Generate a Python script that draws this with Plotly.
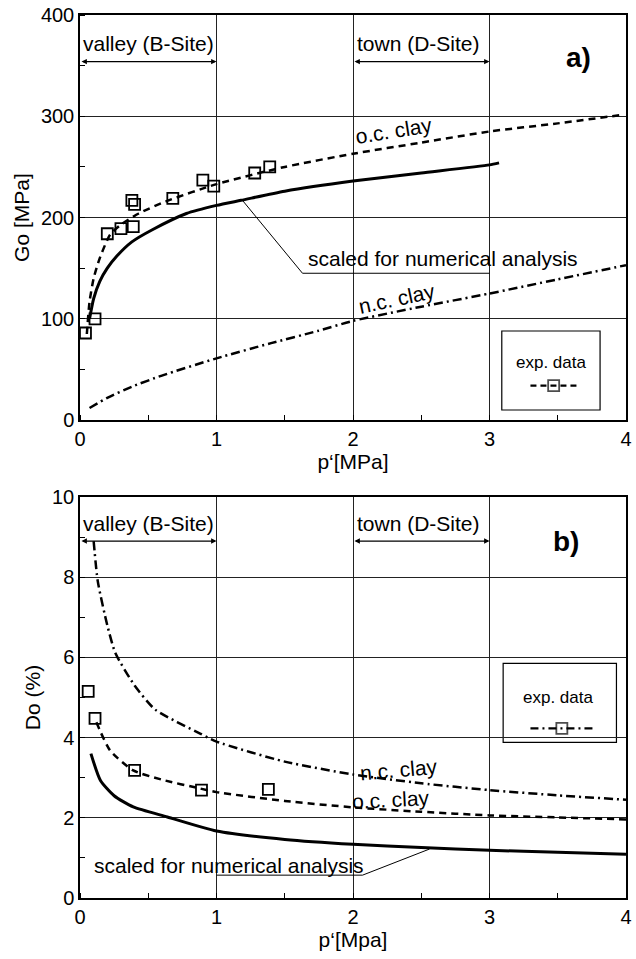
import plotly.graph_objects as go

# ---------------- data: panel a) ----------------
p_oc_a = [0.05, 0.07, 0.10, 0.145, 0.22, 0.30, 0.43, 0.63, 1.0, 1.5, 2.0, 2.5, 3.0, 3.5, 3.95]
G_oc_a = [85, 117, 140, 160, 183, 193, 204, 216, 233, 250, 263, 274, 285, 293, 301]

p_sc_a = [0.07, 0.10, 0.145, 0.20, 0.27, 0.38, 0.53, 0.78, 1.0, 1.18, 1.5, 2.0, 2.5, 3.0, 3.07]
G_sc_a = [100, 120, 137, 150, 162, 176, 188, 204, 212, 217, 226, 236, 244, 252, 254]

p_nc_a = [0.07, 0.20, 0.38, 0.60, 1.0, 1.4, 1.74, 2.0, 2.5, 3.0, 3.5, 4.0]
G_nc_a = [12, 22, 33, 44, 61, 76, 88, 98, 112, 125, 139, 153]

p_exp_a = [0.04, 0.11, 0.20, 0.30, 0.39, 0.38, 0.40, 0.68, 0.90, 0.98, 1.28, 1.39]
G_exp_a = [86, 100, 184, 189, 191, 217, 213, 219, 237, 231, 244, 250]

# ---------------- data: panel b) ----------------
p_nc_b = [0.10, 0.13, 0.20, 0.26, 0.40, 0.55, 0.88, 1.0, 1.5, 2.0, 2.5, 3.0, 3.5, 4.0]
D_nc_b = [8.9, 7.9, 6.8, 6.1, 5.3, 4.7, 4.1, 3.9, 3.4, 3.08, 2.86, 2.69, 2.56, 2.45]

p_oc_b = [0.12, 0.22, 0.39, 0.60, 0.88, 1.0, 1.5, 2.0, 2.5, 3.0, 3.5, 4.0]
D_oc_b = [4.38, 3.68, 3.18, 2.95, 2.73, 2.64, 2.42, 2.26, 2.15, 2.06, 2.01, 1.96]

p_sc_b = [0.08, 0.15, 0.25, 0.39, 0.64, 1.0, 1.5, 2.0, 2.5, 3.0, 3.5, 4.0]
D_sc_b = [3.6, 2.93, 2.55, 2.27, 2.02, 1.67, 1.46, 1.34, 1.26, 1.19, 1.14, 1.09]

p_exp_b = [0.06, 0.11, 0.40, 0.89, 1.38]
D_exp_b = [5.15, 4.48, 3.18, 2.69, 2.71]

x_ticks = [0, 1, 2, 3, 4]
G_ticks = [0, 100, 200, 300, 400]
D_ticks = [0, 2, 4, 6, 8, 10]

FONT = "Liberation Sans, Arial, sans-serif"
DASH = "7px,5px"
DASHDOT = "9px,4px,2px,4px"
TXT = 21

fig = go.Figure()

def line(x, y, dash, xa, ya, width=2.5):
    fig.add_trace(go.Scatter(x=x, y=y, mode="lines", line=dict(color="black", width=width, dash=dash, shape="spline", smoothing=0.6),
                             xaxis=xa, yaxis=ya, showlegend=False, hoverinfo="skip"))

def pts(x, y, xa, ya):
    fig.add_trace(go.Scatter(x=x, y=y, mode="markers",
                             marker=dict(symbol="square-open", size=11, color="black", line=dict(width=1.8, color="black")),
                             xaxis=xa, yaxis=ya, showlegend=False, hoverinfo="skip"))

# panel a
line(p_oc_a, G_oc_a, DASH, "x", "y")
line(p_sc_a, G_sc_a, "solid", "x", "y", 3)
line(p_nc_a, G_nc_a, DASHDOT, "x", "y")
pts(p_exp_a, G_exp_a, "x", "y")
# panel b
line(p_nc_b, D_nc_b, DASHDOT, "x2", "y2")
line(p_oc_b, D_oc_b, DASH, "x2", "y2")
line(p_sc_b, D_sc_b, "solid", "x2", "y2", 3)
pts(p_exp_b, D_exp_b, "x2", "y2")

# legend symbols (drawn inside the legend boxes)
fig.add_trace(go.Scatter(x=[3.30, 3.47, 3.64], y=[34, 34, 34], mode="lines+markers",
                         line=dict(color="black", width=2.2, dash="6px,4px"),
                         marker=dict(symbol="square-open", size=[0, 11, 0], color="black", line=dict(width=1.8)),
                         xaxis="x", yaxis="y", showlegend=False, hoverinfo="skip"))
fig.add_trace(go.Scatter(x=[3.30, 3.53, 3.76], y=[4.23, 4.23, 4.23], mode="lines+markers",
                         line=dict(color="black", width=2.2, dash="8px,4px,2px,4px"),
                         marker=dict(symbol="square-open", size=[0, 11, 0], color="black", line=dict(width=1.8)),
                         xaxis="x2", yaxis="y2", showlegend=False, hoverinfo="skip"))

axis_common = dict(showgrid=True, gridcolor="#222", gridwidth=1, showline=True, mirror=True,
                   linecolor="black", linewidth=1.5, ticks="", zeroline=False,
                   tickfont=dict(size=20, color="black", family=FONT))

fig.update_layout(
    width=636, height=959,
    margin=dict(l=80, r=4, t=13, b=61),
    plot_bgcolor="white", paper_bgcolor="white",
    font=dict(family=FONT, color="black"),
    xaxis=dict(domain=[0, 1], anchor="y", range=[0, 4], tickvals=x_ticks,
               minor=dict(ticks="inside", dtick=0.5, ticklen=5, tickcolor="black", showgrid=False),
               title=dict(text="p‘[MPa]", font=dict(size=TXT), standoff=2), **axis_common),
    yaxis=dict(domain=[0.5412, 1], anchor="x", range=[0, 400], tickvals=G_ticks,
               minor=dict(ticks="inside", dtick=50, ticklen=5, tickcolor="black", showgrid=False),
               title=dict(text="Go [MPa]", font=dict(size=TXT), standoff=6), **axis_common),
    xaxis2=dict(domain=[0, 1], anchor="y2", range=[0, 4], tickvals=x_ticks,
                minor=dict(ticks="inside", dtick=0.5, ticklen=5, tickcolor="black", showgrid=False),
                title=dict(text="p‘[Mpa]", font=dict(size=TXT), standoff=2), **axis_common),
    yaxis2=dict(domain=[0, 0.4542], anchor="x2", range=[0, 10], tickvals=D_ticks,
                minor=dict(ticks="inside", dtick=1, ticklen=5, tickcolor="black", showgrid=False),
                title=dict(text="Do (%)", font=dict(size=TXT), standoff=6), **axis_common),
)

ann = []
def txt(x, y, s, xr, yr, size=TXT, angle=0, bold=False):
    ann.append(dict(x=x, y=y, xref=xr, yref=yr, text=("<b>%s</b>" % s) if bold else s, showarrow=False,
                    textangle=angle, font=dict(size=size, color="black", family=FONT), bgcolor="rgba(0,0,0,0)"))

def darrow(x0, x1, y, xr, yr):
    ann.append(dict(x=x1, y=y, ax=x0, ay=y, xref=xr, yref=yr, axref=xr, ayref=yr, text="",
                    showarrow=True, arrowhead=2, arrowsize=0.9, arrowwidth=1.2, arrowcolor="black",
                    arrowside="end+start", standoff=0, startstandoff=0))

# panel a texts
txt(0.5, 372, "valley (B-Site)", "x", "y")
txt(2.48, 372, "town (D-Site)", "x", "y")
darrow(0, 1, 354, "x", "y")
darrow(2, 3, 354, "x", "y")
txt(3.65, 358, "a)", "x", "y", size=28, bold=True)
txt(2.3, 286, "o.c. clay", "x", "y", angle=-9)
txt(2.32, 120, "n.c. clay", "x", "y", angle=-12)
txt(2.66, 160, "scaled for numerical analysis", "x", "y")
txt(3.45, 57, "exp. data", "x", "y", size=17)

# panel b texts
txt(0.5, 9.33, "valley (B-Site)", "x2", "y2")
txt(2.48, 9.33, "town (D-Site)", "x2", "y2")
darrow(0, 1, 8.9, "x2", "y2")
darrow(2, 3, 8.9, "x2", "y2")
txt(3.56, 8.9, "b)", "x2", "y2", size=28, bold=True)
txt(2.34, 3.2, "n.c. clay", "x2", "y2", angle=-5)
txt(2.28, 2.45, "o.c. clay", "x2", "y2", angle=-3)
txt(1.09, 0.82, "scaled for numerical analysis", "x2", "y2")
txt(3.5, 5.0, "exp. data", "x2", "y2", size=17)

fig.update_layout(annotations=ann)

shapes = [
    # legend boxes
    dict(type="rect", xref="x", yref="y", x0=3.09, x1=3.81, y0=10, y1=88,
         line=dict(color="black", width=1.2), fillcolor="white", layer="below"),
    dict(type="rect", xref="x2", yref="y2", x0=3.10, x1=3.93, y0=3.88, y1=5.85,
         line=dict(color="black", width=1.2), fillcolor="white", layer="below"),
    # leader lines
    dict(type="path", xref="x", yref="y", path="M 1.19 217 L 1.63 145 L 3.0 145",
         line=dict(color="black", width=1)),
    dict(type="path", xref="x2", yref="y2", path="M 1.0 0.57 L 2.07 0.57 L 2.56 1.22",
         line=dict(color="black", width=1)),
]
fig.update_layout(shapes=shapes)

fig.write_html("out.html")
